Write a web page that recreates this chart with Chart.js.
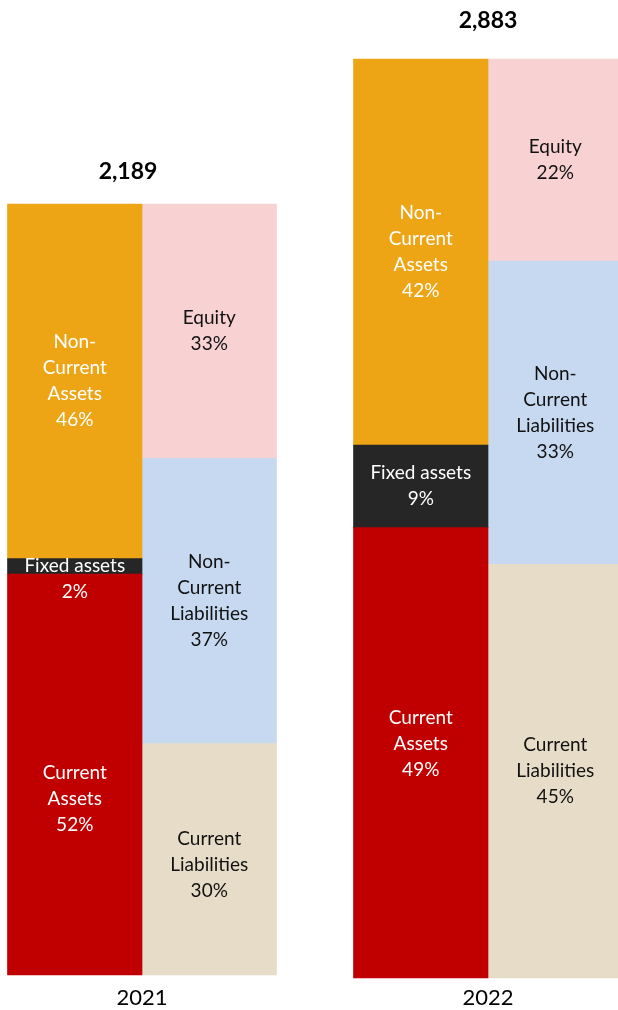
<!DOCTYPE html>
<html>
<head>
<meta charset="utf-8">
<script src="https://cdn.jsdelivr.net/npm/chart.js@4.4.1/dist/chart.umd.min.js"></script>
<style>
html, body { margin: 0; padding: 0; background: #fff; }
#wrap { width: 618px; height: 1010px; }
</style>
</head>
<body>
<div id="wrap"><canvas id="bsChart"></canvas></div>
<script>
// balance sheet structure, shares in % of total
const years = ['2021', '2022'];
const totals = [2189, 2883];
const assetParts = ['Current Assets', 'Fixed assets', 'Non-Current Assets'];
const claimParts = ['Current Liabilities', 'Non-Current Liabilities', 'Equity'];
const assets2021 = [52, 2, 46];
const assets2022 = [49, 9, 42];
const claims2021 = [30, 37, 33];
const claims2022 = [45, 33, 22];

const partColors = {
    'Current Assets': '#C00000',
    'Fixed assets': '#262626',
    'Non-Current Assets': '#EDA515',
    'Current Liabilities': '#E7DCC8',
    'Non-Current Liabilities': '#C6D9F0',
    'Equity': '#F8D2D3'
};
const darkParts = ['Current Assets', 'Fixed assets', 'Non-Current Assets'];
const labelLines = {
    'Current Assets': ['Current', 'Assets'],
    'Fixed assets': ['Fixed assets'],
    'Non-Current Assets': ['Non-', 'Current', 'Assets'],
    'Current Liabilities': ['Current', 'Liabilities'],
    'Non-Current Liabilities': ['Non-', 'Current', 'Liabilities'],
    'Equity': ['Equity']
};
// small manual shifts so labels sit like in the original
const labelNudge = {
    '2021|Fixed assets': 13,
    '2021|Current Assets': 24,
    '2022|Current Assets': -9,
    '2021|Current Liabilities': 6
};
const FONT = 'Lato, "Open Sans", sans-serif';

const datasets = [];
years.forEach(function(yr, i) {
    const groups = [
	[assetParts, i ? assets2022 : assets2021, 'assets'],
	[claimParts, i ? claims2022 : claims2021, 'claims']
    ];
    groups.forEach(function(g) {
	g[0].forEach(function(name, k) {
	    datasets.push({
		label : name,
		year : yr,
		data : years.map(function(_, j) { return j === i ? g[1][k] : null; }),
		stack : g[2],
		yAxisID : 'y' + yr,
		backgroundColor : partColors[name],
		borderWidth : 0,
		barThickness : 134.5,
		clip : false
	    });
	});
    });
});

const segmentLabels = {
    id : 'segmentLabels',
    afterDatasetsDraw(chart) {
	const ctx = chart.ctx;
	ctx.save();
	ctx.textAlign = 'center';
	ctx.textBaseline = 'middle';
	const tops = {};
	chart.data.datasets.forEach(function(ds, di) {
	    const meta = chart.getDatasetMeta(di);
	    meta.data.forEach(function(bar, idx) {
		const v = ds.data[idx];
		if (v === null) return;
		const lines = labelLines[ds.label].concat([v + '%']);
		const cy = (bar.y + bar.base) / 2 + (labelNudge[ds.year + '|' + ds.label] || 0);
		ctx.font = '19px ' + FONT;
		ctx.fillStyle = darkParts.indexOf(ds.label) >= 0 ? '#ffffff' : '#111111';
		lines.forEach(function(t, j) {
		    ctx.fillText(t, bar.x, cy + (j - (lines.length - 1) / 2) * 26);
		});
		tops[idx] = Math.min(tops[idx] === undefined ? 1e9 : tops[idx], bar.y);
	    });
	});
	// totals above each year
	ctx.font = 'bold 23px ' + FONT;
	ctx.fillStyle = '#000';
	totals.forEach(function(t, i) {
	    const x = chart.scales.x.getPixelForValue(i) + (i === 0 ? -14 : 0);
	    ctx.fillText(t.toLocaleString('en-US'), x, tops[i] - (i === 0 ? 32 : 38));
	});
	ctx.restore();
    }
};

function loadChart() {
    const ctx = document.getElementById('bsChart');
    new Chart(ctx, {
	type : 'bar',
	data : {
	    labels : years,
	    datasets : datasets
	},
	options : {
	    responsive : true,
	    maintainAspectRatio : false,
	    animation : false,
	    layout : { padding : { left : 142, right : 130, top : 59, bottom : 0 } },
	    plugins : { legend : { display : false }, tooltip : { enabled : false } },
	    scales : {
		x : {
		    stacked : true,
		    offset : false,
		    grid : { display : false, drawTicks : false },
		    border : { display : false },
		    ticks : { font : { family : FONT, size : 22 }, color : '#000', padding : 7 },
		    afterFit : function(s) { s.height = 32; }
		},
		y2021 : { stacked : true, display : false, min : -0.39, max : 118.8 },
		y2022 : { stacked : true, display : false, min : 0, max : 100 }
	    }
	},
	plugins : [ segmentLabels ]
    });
}
loadChart();
</script>
</body>
</html>
